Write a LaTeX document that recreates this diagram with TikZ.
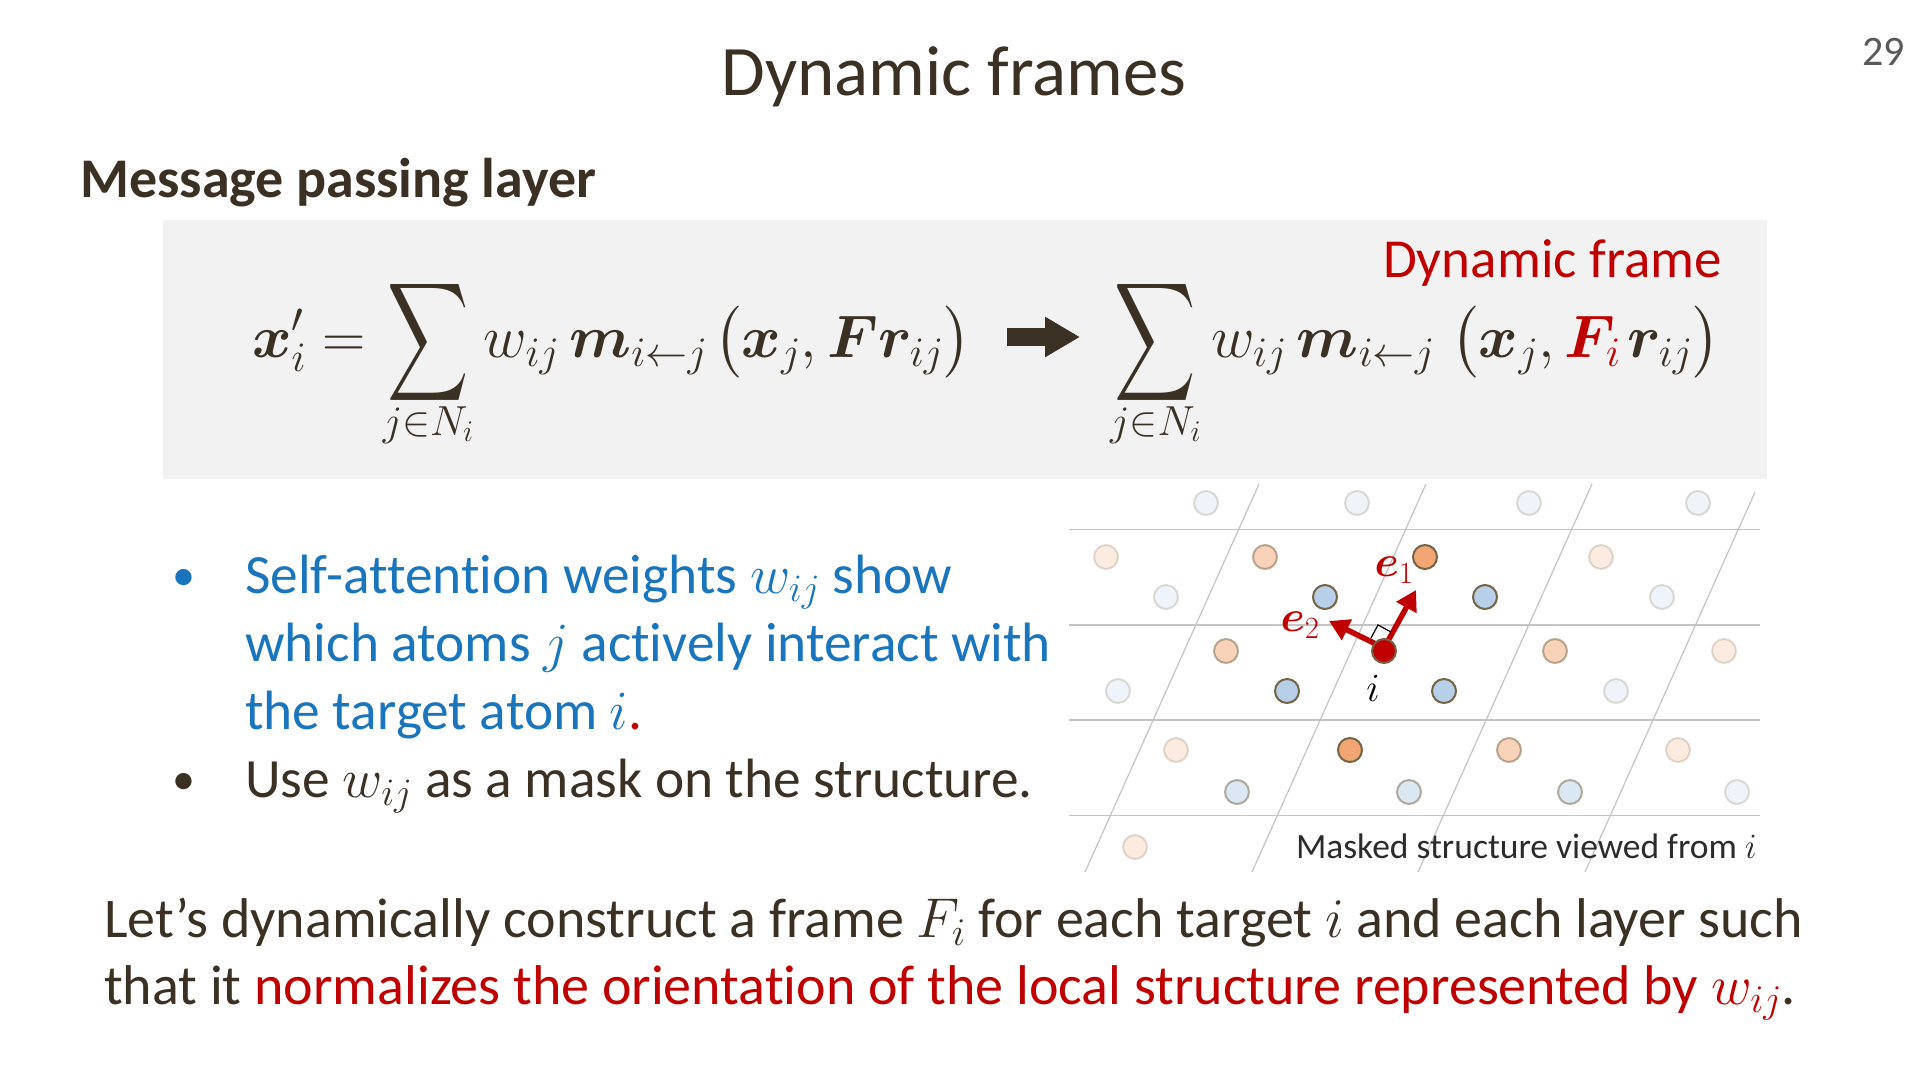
\RequirePackage{fix-cm}
\documentclass[tikz,border=0pt]{standalone}
\usepackage[no-math]{fontspec}
\setmainfont{Carlito}[Ligatures=NoCommon]
\usepackage{amsmath,bm,graphicx}
\DeclareFontFamily{OMX}{cmex}{}
\DeclareFontShape{OMX}{cmex}{m}{n}{<-> cmex10}{}
\newcommand{\tallsum}{\mathop{\vcenter{\hbox{\scalebox{0.94}[1.38]{$\displaystyle\sum$}}}}\limits}
\newcommand{\sumsub}[1]{\raisebox{9pt}[0pt][0pt]{$\scriptstyle #1$}}
\usetikzlibrary{arrows.meta}
\definecolor{txt}{HTML}{3B3024}
\definecolor{capt}{HTML}{2B2B2B}
\definecolor{blu}{HTML}{1B75BC}
\definecolor{redd}{HTML}{C00000}
\definecolor{boxg}{HTML}{F2F2F2}
\definecolor{gridg}{HTML}{C4C4C4}
\definecolor{atomb}{HTML}{B7CFE8}
\definecolor{atomo}{HTML}{F2A673}
\definecolor{atomedge}{HTML}{736445}
\definecolor{pagegray}{HTML}{595959}
\begin{document}
\begin{tikzpicture}[x=1pt,y=-1pt,
  txtnode/.style={inner sep=0pt, anchor=base west, text=txt, font=\fontsize{56}{67}\selectfont},
  bluenode/.style={txtnode, text=blu, font=\fontsize{55.4}{67}\selectfont},
  bulletnode/.style={inner sep=0pt, anchor=base west, font=\fontsize{46}{54}\selectfont},
  formula/.style={inner sep=0pt, anchor=base west, text=txt, font=\fontsize{60}{72}\selectfont},
  gridline/.style={gridg, line width=1.6pt},
  slantline/.style={gridg, line width=1.2pt},
  atom/.style={circle, minimum size=24pt, inner sep=0pt, line width=2pt, draw=atomedge},
  ab/.style={atom, fill=atomb},
  ao/.style={atom, fill=atomo},
  faint/.style={opacity=0.22},
  mid/.style={opacity=0.5},
  evec/.style={redd, line width=5.5pt, -{Triangle[length=20pt,width=22pt]}},
  veclab/.style={inner sep=0pt, text=redd, font=\fontsize{44}{46}\selectfont},
]
\useasboundingbox (0,0) rectangle (1920,1080);

% title and page number
\node[inner sep=0pt, anchor=base, text=txt, font=\fontsize{71}{85}\selectfont] (title) at (954,95) {Dynamic frames};
\node[inner sep=0pt, anchor=base east, text=pagegray, font=\fontsize{42}{50}\selectfont] (page) at (1905,65) {29};

% heading
\node[txtnode, font=\fontsize{56}{67}\bfseries\selectfont] (head) at (80,197) {Message passing layer};

% formula box
\node[fill=boxg, inner sep=0pt, minimum width=1604pt, minimum height=259pt, anchor=north west] (box) at (163,220) {};
\node[formula] (lhs) at (252,357) {$\displaystyle \bm{x}'_i = \tallsum_{\sumsub{j\in N_i}} w_{ij}\,\bm{m}_{i\leftarrow j}\mkern2mu\bigl(\bm{x}_j, \bm{F}\bm{r}_{ij}\bigr)$};
\coordinate (arA) at (1007,337);
\coordinate (arB) at (1080,337);
\draw[txt, line width=18pt, -{Triangle[length=35pt,width=38pt]}] (arA) -- (arB);
\node[formula] (rhs) at (1110,357) {$\displaystyle \tallsum_{\sumsub{j\in N_i}} w_{ij}\,\bm{m}_{i\leftarrow j}\mkern5mu\bigl(\bm{x}_j, {\color{redd}\bm{F}_{i}}\mkern2mu\bm{r}_{ij}\bigr)$};
\node[txtnode, anchor=base east, text=redd, font=\fontsize{55}{66}\selectfont] (dynf) at (1722,277) {Dynamic frame};

% bullets
\node[bulletnode, text=blu] (b1) at (172,590) {•};
\node[bluenode] (l1) at (245,593) {Self-attention weights $w_{ij}$ show};
\node[bluenode] (l2) at (245,661) {which atoms $j$ actively interact with};
\node[bluenode] (l3) at (245,729) {the target atom $i${\color{redd}.}};
\node[bulletnode, text=txt] (b2) at (172,794) {•};
\node[txtnode, font=\fontsize{55.4}{67}\selectfont] (l4) at (245,797) {Use $w_{ij}$ as a mask on the structure.};

% bottom text
\node[txtnode] (bt1) at (104,937) {Let’s dynamically construct a frame $F_i$ for each target $i$ and each layer such};
\node[txtnode] (bt2) at (104,1004) {that it {\color{redd}normalizes the orientation of the local structure represented by $w_{ij}$}.};

% lattice
\foreach \yy in {529.3,624.7,720,815.3}
  \draw[gridline] (1069,\yy) -- (1760,\yy);
\foreach \xb in {1085,1252,1418}
  \draw[slantline] (\xb,872) -- (\xb+174,484);
\draw[slantline] (1585,872) -- (1755,492);

% atoms
\node[ab, faint] (a1) at (1206,503) {};
\node[ab, faint] (a2) at (1357,503) {};
\node[ab, faint] (a3) at (1529,503) {};
\node[ab, faint] (a4) at (1698,503) {};
\node[ao, faint] (a5) at (1106,557) {};
\node[ao, mid] (a6) at (1265,557) {};
\node[ao] (a7) at (1425,557) {};
\node[ao, faint] (a8) at (1601,557) {};
\node[ab, faint] (a9) at (1166,597) {};
\node[ab] (a10) at (1325,597) {};
\node[ab] (a11) at (1485,597) {};
\node[ab, faint] (a12) at (1662,597) {};
\node[ao, mid] (a13) at (1226,651) {};
\node[ao, mid] (a14) at (1555,651) {};
\node[ao, faint] (a15) at (1724,651) {};
\node[ab, faint] (a16) at (1118,691) {};
\node[ab] (a17) at (1287,691) {};
\node[ab] (a18) at (1444,691) {};
\node[ab, faint] (a19) at (1616,691) {};
\node[ao, faint] (a20) at (1176,750) {};
\node[ao] (a21) at (1350,750) {};
\node[ao, mid] (a22) at (1509,750) {};
\node[ao, faint] (a23) at (1678,750) {};
\node[ab, mid] (a24) at (1237,792) {};
\node[ab, mid] (a25) at (1409,792) {};
\node[ab, mid] (a26) at (1570,792) {};
\node[ab, faint] (a27) at (1737,792) {};
\node[ao, faint] (a28) at (1135,847) {};

% frame vectors at atom i
\coordinate (ic) at (1384,648);
\coordinate (e1tip) at (1416,590);
\coordinate (e2tip) at (1329,621);
\draw[evec] (ic) -- (e1tip);
\draw[evec] (ic) -- (e2tip);
\coordinate (rm1) at (1391,632);
\coordinate (rmc) at (1378,625);
\coordinate (rm2) at (1371,638);
\draw[black, line width=1.2pt] (rm1) -- (rmc) -- (rm2);
\node[atom, fill=redd] (i) at (1384,651) {};
\node[veclab] (e1lab) at (1394,570) {$\bm{e}_1$};
\node[veclab] (e2lab) at (1300,625) {$\bm{e}_2$};
\node[inner sep=0pt, text=black, font=\fontsize{40}{42}\selectfont] (ilab) at (1373,688) {$i$};

\node[inner sep=0pt, anchor=base east, text=capt, font=\fontsize{35.5}{42}\selectfont] (cap) at (1757,858) {Masked structure viewed from $i$};
\end{tikzpicture}
\end{document}
